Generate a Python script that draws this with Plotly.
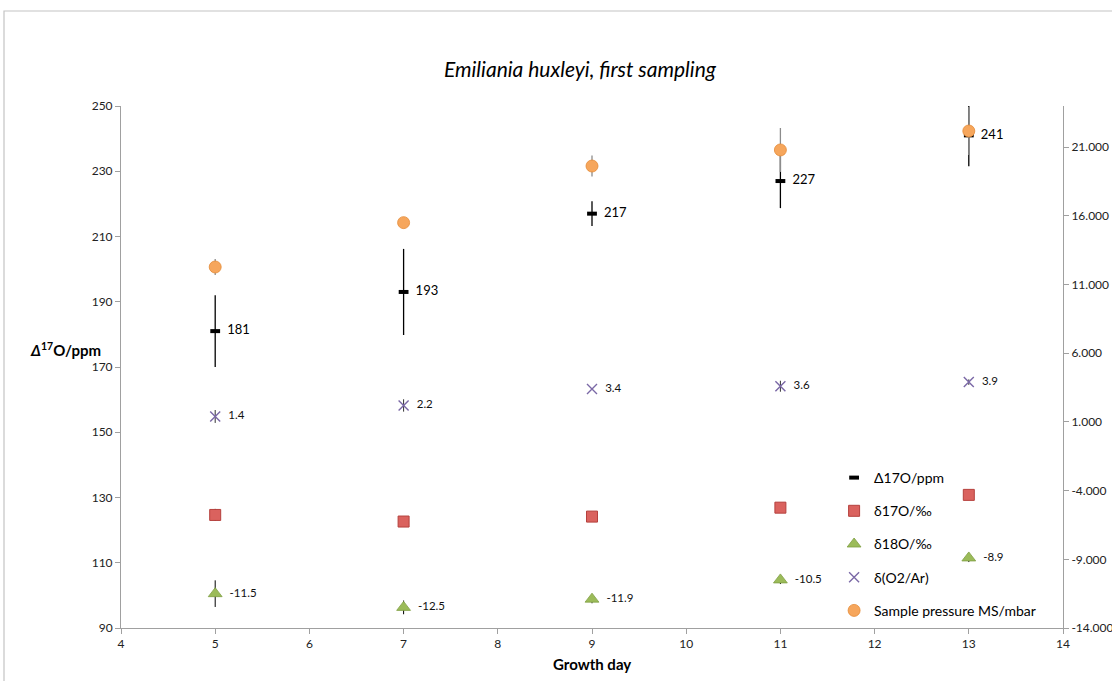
import plotly.graph_objects as go

# ---- data ----
days = [5, 7, 9, 11, 13]

cap17 = [181, 193, 217, 227, 241]            # Δ17O / ppm (left axis)
cap17_err = [11.0, 13.2, 3.8, 8.3, 9.5]

d17 = [-5.77, -6.25, -5.89, -5.24, -4.31]    # δ17O / ‰ (right axis)
d17_err = [0.44, 0.0, 0.0, 0.0, 0.0]

d18 = [-11.5, -12.5, -11.9, -10.5, -8.9]     # δ18O / ‰ (right axis)
d18_err = [0.97, 0.5, 0.3, 0.3, 0.3]

o2ar = [1.4, 2.2, 3.4, 3.6, 3.9]             # δ(O2/Ar) (right axis)
o2ar_err = [0.47, 0.45, 0.0, 0.4, 0.2]

pressure = [12.28, 15.51, 19.63, 20.80, 22.18]   # sample pressure MS / mbar (right axis)
pressure_err = [0.58, 0.3, 0.76, 1.6, 1.75]

left_ticks = [90, 110, 130, 150, 170, 190, 210, 230, 250]
right_ticks = [-14, -9, -4, 1, 6, 11, 16, 21]
right_ticktext = [f"{v:.3f}" for v in right_ticks]   # ASCII hyphen as in the reference

FONT = "Lato"
AXIS_COL = "#a0a0a0"
PAD = "\u00a0\u00a0"

fig = go.Figure()

fig.add_trace(go.Scatter(
    x=days, y=cap17, name="Δ17O/ppm", legendgroup="a",
    mode="markers+text",
    text=[str(v) for v in cap17], texttemplate=PAD + "%{text}", textposition="middle right",
    textfont=dict(family=FONT, size=13, color="#000"),
    marker=dict(symbol="line-ew", size=7, color="black", line=dict(width=4, color="black")),
    error_y=dict(type="data", array=cap17_err, visible=True, width=0, thickness=1.3, color="#000"),
    yaxis="y",
))

fig.add_trace(go.Scatter(
    x=days, y=d17, name="δ17O/‰", legendgroup="b",
    mode="markers",
    marker=dict(symbol="square", size=11, color="#DA625E", line=dict(width=1, color="#B5403D")),
    error_y=dict(type="data", array=d17_err, visible=True, width=0, thickness=1, color="#000"),
    yaxis="y2",
))

fig.add_trace(go.Scatter(
    x=days, y=d18, name="δ18O/‰", legendgroup="c",
    mode="markers+text",
    text=[f"{v:.1f}" for v in d18], texttemplate=PAD + "%{text}", textposition="middle right",
    textfont=dict(family=FONT, size=11.5, color="#111"),
    marker=dict(symbol="triangle-up", size=12, color="#9BBB59", line=dict(width=0.8, color="#7F9E43")),
    error_y=dict(type="data", array=d18_err, visible=True, width=0, thickness=1, color="#000"),
    yaxis="y2",
))

fig.add_trace(go.Scatter(
    x=days, y=o2ar, name="δ(O2/Ar)", legendgroup="d",
    mode="markers+text",
    text=[f"{v:.1f}" for v in o2ar], texttemplate=PAD + "%{text}", textposition="middle right",
    textfont=dict(family=FONT, size=11.5, color="#111"),
    marker=dict(symbol="x-thin", size=10, color="#7A68A6", line=dict(width=1.4, color="#7A68A6")),
    error_y=dict(type="data", array=o2ar_err, visible=True, width=0, thickness=1, color="#333"),
    yaxis="y2",
))

fig.add_trace(go.Scatter(
    x=days, y=pressure, name="Sample pressure MS/mbar", legendgroup="e",
    mode="markers",
    marker=dict(symbol="circle", size=12, color="#F6A65C", line=dict(width=0.8, color="#E58A36")),
    error_y=dict(type="data", array=pressure_err, visible=True, width=0, thickness=1.3, color="#8c8c8c"),
    yaxis="y2",
))

fig.update_layout(
    width=1112, height=681,
    margin=dict(l=121, r=49, t=106, b=53, autoexpand=False),
    paper_bgcolor="white", plot_bgcolor="white",
    font=dict(family=FONT, size=12, color="#222"),
    title=dict(
        text="<i>Emiliania huxleyi, first sampling</i>",
        x=580 / 1112, xanchor="center", xref="container",
        y=1 - 70 / 681, yanchor="middle", yref="container",
        font=dict(family=FONT, size=21, color="#000"),
    ),
    xaxis=dict(
        range=[4, 14], tickmode="array", tickvals=list(range(4, 15)), automargin=False,
        showgrid=False, zeroline=False, showline=True, linecolor=AXIS_COL, linewidth=1,
        ticks="outside", ticklen=5, tickcolor=AXIS_COL,
        tickfont=dict(family=FONT, size=12, color="#222"),
    ),
    yaxis=dict(
        range=[90, 250], tickmode="array", tickvals=left_ticks, automargin=False,
        showgrid=False, zeroline=False, showline=True, linecolor=AXIS_COL, linewidth=1,
        ticks="outside", ticklen=5, tickcolor=AXIS_COL,
        tickfont=dict(family=FONT, size=12, color="#222"),
    ),
    yaxis2=dict(
        range=[-14, 24], overlaying="y", side="right", automargin=False,
        tickmode="array", tickvals=right_ticks, ticktext=right_ticktext,
        showgrid=False, zeroline=False, showline=True, linecolor=AXIS_COL, linewidth=1,
        ticks="outside", ticklen=5, tickcolor=AXIS_COL,
        tickfont=dict(family=FONT, size=12, color="#222"),
    ),
    legend=dict(
        x=0.757, y=0.318, xanchor="left", yanchor="top",
        bgcolor="rgba(0,0,0,0)", font=dict(family=FONT, size=14, color="#000"),
        tracegroupgap=12, itemwidth=30, traceorder="grouped",
    ),
    showlegend=True,
)

fig.add_annotation(
    text="<b><i>Δ</i><sup>17</sup>O/ppm</b>", xref="paper", yref="paper",
    x=(28 - 121) / 942, y=(628 - 349) / 522, xanchor="left", yanchor="middle",
    showarrow=False, font=dict(family=FONT, size=15, color="#000"),
)
fig.add_annotation(
    text="<b>Growth day</b>", xref="paper", yref="paper",
    x=0.5, y=(628 - 664) / 522, xanchor="center", yanchor="middle",
    showarrow=False, font=dict(family=FONT, size=15, color="#000"),
)

# chart frame
fig.add_shape(
    type="rect", xref="paper", yref="paper",
    x0=(4 - 121) / 942, x1=1.2, y0=-0.3, y1=(628 - 11) / 522,
    line=dict(color="#c4c4c4", width=1.2), fillcolor="rgba(0,0,0,0)", layer="below",
)

fig.write_html("out.html")
